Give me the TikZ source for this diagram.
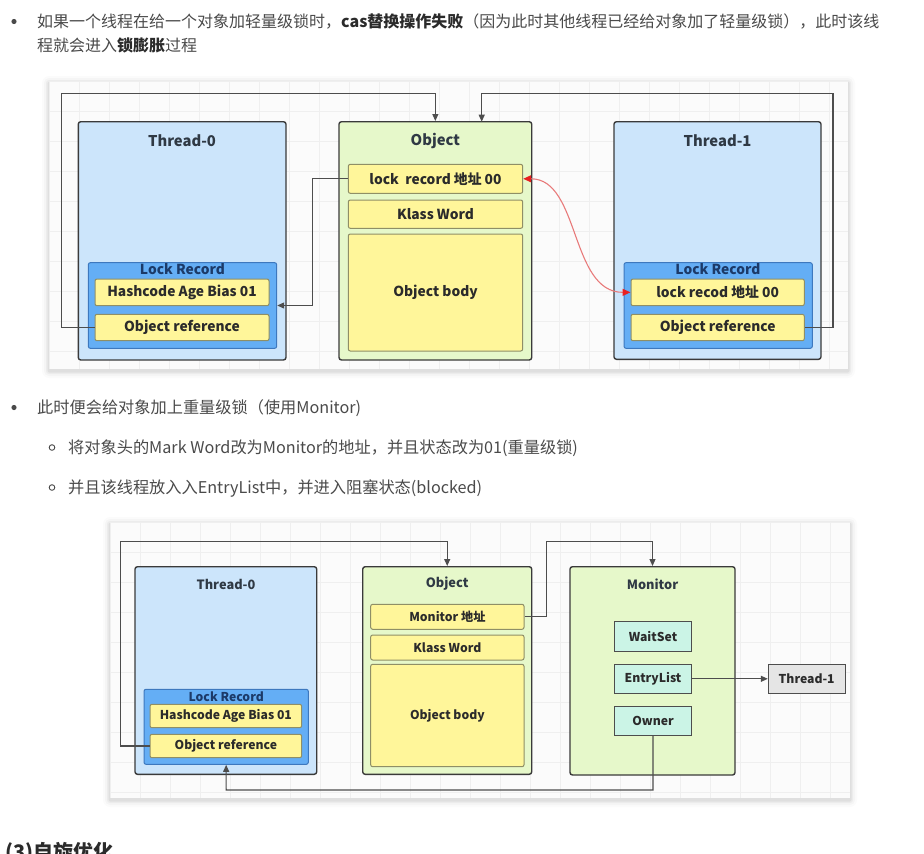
\documentclass[tikz,border=0pt]{standalone}
\usepackage{fontspec}
\setmainfont{Noto Sans CJK SC}
\usetikzlibrary{arrows.meta}

\definecolor{webtext}{HTML}{4A4A4A}
\definecolor{webbold}{HTML}{2B2B2B}
\definecolor{cardbg}{HTML}{FBFBFB}
\definecolor{gridc}{HTML}{EFEFEF}
\definecolor{edge}{HTML}{3A3A3A}
\definecolor{threadfill}{HTML}{CCE5FB}
\definecolor{lrfill}{HTML}{64AEF5}
\definecolor{lrdraw}{HTML}{3D78BE}
\definecolor{lrtext}{HTML}{1C3A68}
\definecolor{yfill}{HTML}{FFF69A}
\definecolor{ydraw}{HTML}{8F8F66}
\definecolor{gfill}{HTML}{E6F8CA}
\definecolor{mfill}{HTML}{CBF4E6}
\definecolor{grayfill}{HTML}{E5E5E5}
\definecolor{titlec}{HTML}{2F3944}
\definecolor{linec}{HTML}{4D4D4D}
\definecolor{redline}{HTML}{E87A7A}
\definecolor{redtip}{HTML}{E82020}

\tikzset{
  webtxt/.style={anchor=base west, inner sep=0pt, text=webtext, font=\fontsize{16.2}{19}\selectfont},
  outerbox/.style={draw=edge, line width=1.4pt, rounded corners=2.5pt},
  threadbox/.style={outerbox, fill=threadfill},
  greenbox/.style={outerbox, fill=gfill},
  lockbox/.style={draw=lrdraw, fill=lrfill, line width=1pt, rounded corners=2pt},
  fieldbox/.style={draw=ydraw, fill=yfill, line width=1pt, rounded corners=2pt, inner sep=0pt,
    text=webbold, font=\bfseries\fontsize{13.8}{15}\selectfont},
  fieldsm/.style={fieldbox, font=\bfseries\fontsize{12.2}{14}\selectfont},
  mintbox/.style={draw=linec, fill=mfill, line width=1pt, inner sep=0pt,
    text=webbold, font=\bfseries\fontsize{12.2}{14}\selectfont},
  greybox/.style={draw=linec, fill=grayfill, line width=1pt, inner sep=0pt,
    text=webbold, font=\bfseries\fontsize{12.2}{14}\selectfont},
  title/.style={inner sep=0pt, text=titlec, font=\bfseries\fontsize{14.8}{16}\selectfont},
  titlesm/.style={title, font=\bfseries\fontsize{12.8}{14}\selectfont},
  lrlabel/.style={inner sep=0pt, text=lrtext, font=\bfseries\fontsize{13.8}{15}\selectfont},
  lrlabelsm/.style={lrlabel, font=\bfseries\fontsize{12.2}{14}\selectfont},
  conn/.style={draw=linec, line width=1.1pt},
  arr/.style={conn, -{Triangle[length=7pt,width=6pt]}},
  redarr/.style={draw=redline, line width=1.1pt,
    {Triangle[length=8pt,width=7pt,color=redtip]}-{Triangle[length=8pt,width=7pt,color=redtip]}},
}

% box from corner coordinates: #1 style, #2 name, #3 x1, #4 y1, #5 x2, #6 y2, #7 text
\newcommand{\boxat}[7]{%
  \node[#1, minimum width={(#5-#3)*1pt}, minimum height={(#6-#4)*1pt}, anchor=center]
    (#2) at ({(#3+#5)/2},{(#4+#6)/2}) {#7};}

% soft card with faint grid
\newcommand{\card}[4]{%
  \foreach \s/\o in {7/0.015,5/0.025,3/0.035,1.5/0.05}
    \fill[black, opacity=\o, rounded corners={\s*1pt}] ({#1-\s},{#2-\s+2}) rectangle ({#3+\s},{#4+\s+2});
  \fill[cardbg] (#1,#2) rectangle (#3,#4);
  \begin{scope}
    \clip (#1,#2) rectangle (#3,#4);
    \foreach \gx in {0,30,...,900} \draw[gridc, line width=0.6pt] ({#1+\gx},#2) -- ({#1+\gx},#4);
    \foreach \gy in {0,30,...,330} \draw[gridc, line width=0.6pt] (#1,{#2+\gy}) -- (#3,{#2+\gy});
  \end{scope}}

\begin{document}
\begin{tikzpicture}[x=1pt, y=-1pt]
\useasboundingbox (0,0) rectangle (924,854);
\fill[white] (0,0) rectangle (924,854);

% ---------- first paragraph ----------
\fill[webtext] (14,21.5) circle (2.6);
\node[webtxt, font=\fontsize{16}{19}\selectfont] (p1a) at (37,27) {如果一个线程在给一个对象加轻量级锁时，{\bfseries\color{webbold}cas替换操作失败}（因为此时其他线程已经给对象加了轻量级锁），此时该线};
\node[webtxt, font=\fontsize{16}{19}\selectfont] (p1b) at (37,51) {程就会进入{\bfseries\color{webbold}锁膨胀}过程};

% ---------- first diagram ----------
\card{49}{81}{848}{369}

\boxat{threadbox}{t0}{78.3}{121.7}{286}{360}{}
\node[title] (t0title) at (182,141) {Thread-0};
\boxat{lockbox}{lr0}{88.3}{262.7}{276.7}{348.3}{}
\node[lrlabel] (lr0label) at (182.5,269.5) {Lock Record};
\boxat{fieldbox}{hc0}{95}{279}{269}{305.7}{Hashcode Age Bias 01}
\boxat{fieldbox}{or0}{95}{314.3}{269}{340.7}{Object reference}

\boxat{greenbox}{obj}{339}{121.7}{531.7}{360}{}
\node[title] (objtitle) at (435.3,141) {Object};
\boxat{fieldbox}{olr}{348.3}{164.3}{522.7}{193.3}{lock\ \ record 地址 00}
\boxat{fieldbox}{okw}{348.3}{200}{522.7}{228.3}{Klass Word}
\boxat{fieldbox}{obd}{348.3}{234}{522.7}{351}{Object body}

\boxat{threadbox}{t1}{614}{121.7}{821}{359.3}{}
\node[title] (t1title) at (717.5,141) {Thread-1};
\boxat{lockbox}{lr1}{624}{262.7}{812.3}{348.3}{}
\node[lrlabel] (lr1label) at (718,269.5) {Lock Record};
\boxat{fieldbox}{lrc1}{631}{279}{804.3}{305.7}{lock recod 地址 00}
\boxat{fieldbox}{or1}{631}{314.3}{804.3}{340.7}{Object reference}

\coordinate (k1) at (61.7,93.3);
\coordinate (k2) at (833,93.3);
\coordinate (objin) at (481.7,121.7);
\draw[arr] (or0.west) -| (k1) -| (obj.north);
\draw[arr] (or1.east) -| (k2) -| (objin);
\draw[arr] (olr.west) -- ++(-35.6,0) |- (lr0.east);
\draw[redarr] (olr.east) .. controls (580,178.7) and (570,292.3) .. (lrc1.west);

% ---------- second paragraph ----------
\fill[webtext] (14,407.5) circle (2.6);
\node[webtxt] (p2) at (37,413) {此时便会给对象加上重量级锁（使用Monitor)};
\draw[webtext, line width=0.9pt] (52,447.5) circle (2.8);
\node[webtxt] (p3) at (68,453) {将对象头的Mark Word改为Monitor的地址，并且状态改为01(重量级锁)};
\draw[webtext, line width=0.9pt] (52,487.5) circle (2.8);
\node[webtxt] (p4) at (68,493) {并且该线程放入入EntryList中，并进入阻塞状态(blocked)};

% ---------- second diagram ----------
\card{110}{522}{850}{798}

\boxat{threadbox}{u0}{135}{566.7}{316.7}{774.3}{}
\node[titlesm] (u0title) at (226,584) {Thread-0};
\boxat{lockbox}{lr2}{144}{689.3}{308.3}{764.3}{}
\node[lrlabelsm] (lr2label) at (226.2,696.5) {Lock Record};
\boxat{fieldsm}{hc2}{150}{704.3}{301.7}{727.7}{Hashcode Age Bias 01}
\boxat{fieldsm}{or2}{150}{734.3}{301.7}{757.7}{Object reference}

\boxat{greenbox}{obj2}{362.7}{566.7}{531.7}{774.3}{}
\node[titlesm] (obj2title) at (447.2,584) {Object};
\boxat{fieldsm}{mon}{370.7}{604.3}{524}{629.3}{Monitor 地址}
\boxat{fieldsm}{okw2}{370.7}{635}{524}{660}{Klass Word}
\boxat{fieldsm}{obd2}{370.7}{664.3}{524}{766.7}{Object body}

\boxat{greenbox}{mbox}{570}{566.7}{735}{775}{}
\node[titlesm] (mtitle) at (652.5,584) {Monitor};
\boxat{mintbox}{ws}{614.3}{621.7}{691.7}{651}{WaitSet}
\boxat{mintbox}{el}{614.3}{664.3}{691.7}{693.3}{EntryList}
\boxat{mintbox}{own}{614.3}{706.7}{691.7}{735.7}{Owner}

\boxat{greybox}{th1}{768.3}{664.3}{845}{693.3}{Thread-1}

\coordinate (k3) at (120.7,541.7);
\coordinate (k4) at (546.7,541.7);
\coordinate (k5) at (226.2,790);
\draw[arr] (or2.west) -| (k3) -| (obj2.north);
\draw[arr] (mon.east) -| (k4) -| (mbox.north);
\draw[arr] (el.east) -- (th1.west);
\draw[arr] (own.south) |- (k5) -- (lr2.south);

% ---------- next heading ----------
\node[anchor=base west, inner sep=0pt, text=webbold, font=\bfseries\fontsize{20}{22}\selectfont] (h3) at (5,859) {(3)自旋优化};
\end{tikzpicture}
\end{document}
